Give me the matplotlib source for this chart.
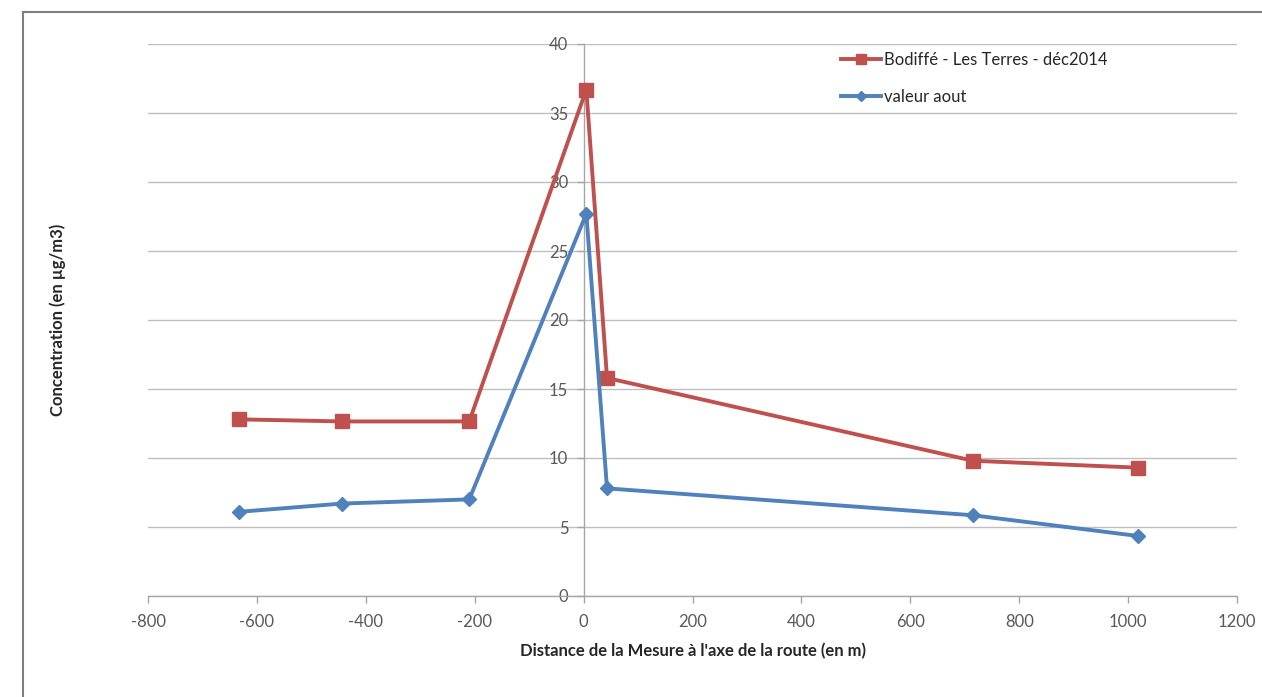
import matplotlib.pyplot as plt
from matplotlib.patches import Rectangle

# Data
distance = [-633, -443, -210, 5, 43, 715, 1018]
bodiffe_dec2014 = [12.8, 12.65, 12.65, 36.7, 15.8, 9.8, 9.3]
valeur_aout = [6.1, 6.7, 7.0, 27.7, 7.8, 5.85, 4.35]

xticks = list(range(-800, 1201, 200))
yticks = list(range(0, 41, 5))

red = '#c0504d'
blue = '#4f81bd'
grey_txt = '#595959'

plt.rcParams['font.family'] = ['Lato', 'DejaVu Sans']
plt.rcParams['axes.unicode_minus'] = False

fig = plt.figure(figsize=(12.62, 6.97), dpi=100)
ax = fig.add_axes([148 / 1262, 1 - 596 / 697, (1237 - 148) / 1262, (596 - 44) / 697])

# outer chart frame (cut by the image edge on right and bottom)
fig.patches.append(Rectangle((23 / 1262, -0.05), 1.2, 1 - 12 / 697 + 0.05,
                             transform=fig.transFigure, fill=False,
                             edgecolor='#7f7f7f', linewidth=1.5))

ax.plot(distance, bodiffe_dec2014, color=red, linewidth=2.8, marker='s',
        markersize=10, label='Bodiffé - Les Terres - déc2014', zorder=3)
ax.plot(distance, valeur_aout, color=blue, linewidth=2.8, marker='D',
        markersize=7.5, label='valeur aout', zorder=3)

ax.set_xlim(-800, 1200)
ax.set_ylim(0, 40)
ax.set_xticks(xticks)
ax.set_yticks(yticks)

ax.spines['top'].set_visible(False)
ax.spines['right'].set_visible(False)
ax.spines['left'].set_position(('data', 0))
for s in ('left', 'bottom'):
    ax.spines[s].set_color('#a6a6a6')
    ax.spines[s].set_linewidth(1)

ax.yaxis.grid(True, color='#bfbfbf', linewidth=1)
ax.set_axisbelow(True)
ax.tick_params(axis='both', colors='#a6a6a6', labelcolor=grey_txt,
               labelsize=12, length=5, width=1)
ax.tick_params(axis='y', pad=6)
ax.tick_params(axis='x', pad=8)

ax.set_xlabel("Distance de la Mesure à l'axe de la route (en m)",
              fontsize=12, fontweight='bold', color='#262626', labelpad=9)
fig.text(58 / 1262, 1 - 320 / 697, 'Concentration (en µg/m3)', rotation=90,
         ha='center', va='center', fontsize=12, fontweight='bold', color='#262626')

ax.legend(loc='upper left', bbox_to_anchor=(826 / 1262, 1 - 37 / 697),
          bbox_transform=fig.transFigure, frameon=False, fontsize=12,
          handlelength=2.4, handletextpad=0.15, labelspacing=1.25,
          markerscale=0.7, labelcolor='#262626')

fig.savefig('out.png', dpi=100)
